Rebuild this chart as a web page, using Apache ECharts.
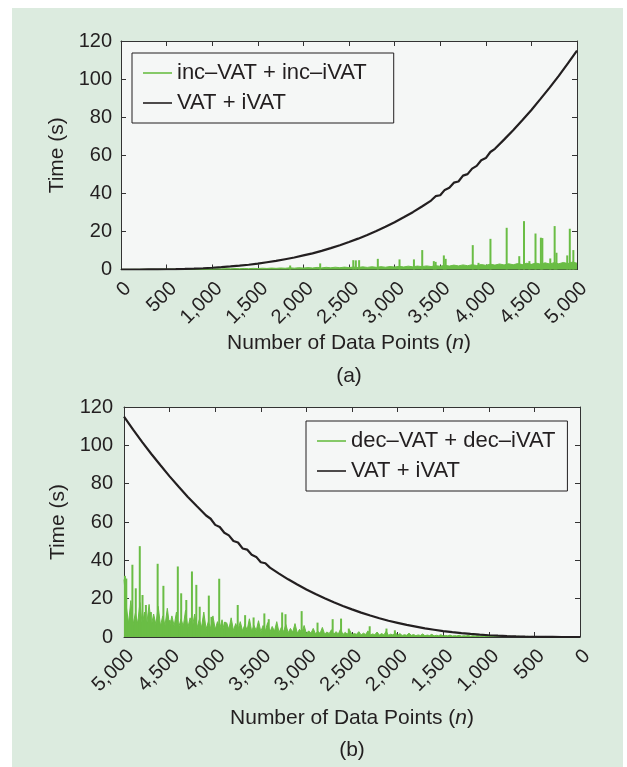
<!DOCTYPE html>
<html><head><meta charset="utf-8">
<script src="https://cdn.jsdelivr.net/npm/echarts@6/dist/echarts.min.js"></script>
<style>
html,body{margin:0;padding:0;background:#fff;}
#panel{position:absolute;left:12px;top:8px;width:611px;height:759px;background:#dcebdf;}
#c{position:absolute;left:0;top:0;width:627px;height:767px;}
</style>
</head><body><div id="panel"></div><div id="c"></div>
<script>
// ---------- data ----------
const xTickValues = [0,500,1000,1500,2000,2500,3000,3500,4000,4500,5000];

// VAT + iVAT (seconds) vs n
const vatN = [0,100,200,300,400,500,600,700,800,900,1000,1100,1200,1300,1400,1500,1600,1700,1800,1900,2000,2100,2200,2300,2400,2500,2600,2700,2800,2900,3000,3100,3200,3300,3400,
  3450,3500,3550,3600,3650,3700,3750,3800,3850,3900,3950,4000,4050,
  4100,4200,4300,4400,4500,4600,4700,4800,4900,5000];
const vatT = [0,0,0.01,0.03,0.06,0.12,0.2,0.32,0.47,0.67,0.92,1.22,1.6,2.0,2.5,3.1,3.8,4.5,5.4,6.3,7.4,8.5,9.8,11.2,12.7,14.4,16.2,18.1,20.2,22.4,24.8,27.4,30.1,33.1,36.2,
  38.5,39.0,41.8,42.9,45.6,46.2,49.3,50.1,53.0,54.4,57.4,58.5,61.7,
  63.4,68.2,73.1,78.4,83.8,89.6,95.5,101.7,108.2,115];

// inc-VAT + inc-iVAT : baseline every 50 points (n = 0..5000)
const incStep = 50;
const incBaseT = [
  0.05,0.08,0.05,0.1,0.08,0.12,0.1,0.15,0.12,0.18,
  0.15,0.2,0.17,0.22,0.2,0.26,0.22,0.3,0.25,0.33,
  0.3,0.4,0.32,0.45,0.38,0.5,0.42,0.55,0.45,0.6,
  0.5,0.68,0.55,0.75,0.6,0.8,0.65,0.9,0.7,0.95,
  0.75,1.0,0.8,1.1,0.85,1.15,0.9,1.2,0.95,1.25,
  1.0,1.3,1.05,1.4,1.1,1.45,1.15,1.5,1.2,1.55,
  1.3,1.65,1.35,1.75,1.4,1.8,1.5,1.9,1.55,2.0,
  1.7,2.2,1.8,2.3,1.9,2.4,2.0,2.5,2.1,2.6,
  2.2,2.8,2.3,2.9,2.4,3.0,2.5,3.1,2.6,3.3,
  2.7,3.4,2.8,3.5,2.9,3.6,3.0,3.7,3.1,3.9,
  3.3];
// inc spikes
const incSpikeN = [1855,2184,2547,2575,2611,2816,3054,3212,3303,3430,3450,3540,3560,3857,3920,4051,4229,4367,4419,4478,4545,4604,4620,4707,4755,4775,4893,4921,4960];
const incSpikeT = [2.1,3.2,4.9,4.8,4.9,5.6,5.3,5.3,10.2,4.4,4.0,7.4,5.6,12.8,3.5,16.1,21.9,7.0,25.4,4.4,18.9,16.7,16.5,5.8,22.8,8.8,7.4,21.4,10.2];

// dec-VAT + dec-iVAT : baseline every 25 points (n = 0..5000)
const decStep = 25;
const decBaseT = [
  0.1,0.15,0.1,0.2,0.12,0.18,0.1,0.22,0.15,0.2,0.12,0.25,0.18,0.22,0.15,0.28,0.2,0.25,0.18,0.3,
  0.22,0.32,0.2,0.35,0.25,0.3,0.22,0.4,0.28,0.35,0.25,0.45,0.3,0.4,0.28,0.5,0.32,0.45,0.3,0.55,
  0.35,0.6,0.4,0.5,0.35,0.7,0.45,0.6,0.4,0.8,0.5,0.65,0.45,0.9,0.55,0.7,0.5,1.0,0.6,0.8,
  0.55,1.2,0.7,0.9,0.6,1.4,0.75,1.0,0.65,1.6,0.8,1.1,0.7,1.3,0.85,2.0,0.9,1.2,0.8,1.8,
  0.9,2.4,1.0,1.5,0.9,3.0,1.1,1.8,1.0,2.6,1.2,1.6,1.0,3.2,1.3,2.0,1.1,2.8,1.4,1.8,
  1.2,3.5,1.5,2.4,1.3,4.2,1.6,2.8,1.4,3.8,1.8,2.6,1.5,5.0,1.9,3.0,1.6,4.5,2.0,3.2,
  1.8,6.0,2.2,4.0,2.0,7.0,2.5,4.5,2.2,6.5,2.8,5.0,2.4,8.0,3.0,5.5,2.6,7.5,3.2,6.0,
  2.8,8.5,3.4,6.0,3.0,9.5,3.6,6.5,3.2,8.0,3.8,7.0,3.4,10.0,4.0,7.5,3.6,9.0,4.2,8.0,
  4.0,11.0,4.5,8.0,4.2,13.0,5.0,9.0,4.6,12.0,5.2,10.0,4.8,14.0,5.5,9.5,5.0,13.0,5.8,11.0,
  5.5,15.0,6.0,11.0,5.8,16.0,6.5,12.0,6.0,17.0,6.8,13.0,6.2,18.0,7.0,12.5,6.5,19.0,7.2,16.0,
  30];
// dec spikes
const decSpikeN = [4990,4975,4908,4871,4827,4797,4760,4705,4631,4568,4502,4410,4373,4317,4255,4207,4170,4070,4041,3956,3893,3753,3672,3579,3461,3413,3266,3229,3052,2878,2712,2620,2535,2306,2122,2030];
const decSpikeT = [31.9,30.5,37.7,25.4,47.4,21.9,16.7,13,38.2,26.7,8.8,36.8,22.8,19.3,34.2,27.2,15.8,21.6,10.5,30.4,7.9,16.7,11.4,10.2,12.3,9.3,12.8,11.9,13.5,7.5,9.3,9.6,4.4,5.6,4.4,3.5];

const nameInc = 'inc\u2013VAT + inc\u2013iVAT';
const nameDec = 'dec\u2013VAT + dec\u2013iVAT';
const nameVat = 'VAT + iVAT';

// ---------- styling ----------
const GREEN = '#6abd45', DARK = '#231f20', AXIS = '#333333', PLOTBG = '#f5f7f6';
const FONT = '"Liberation Sans", Arial, Helvetica, sans-serif';

const pairs = (xs, ys) => xs.map((x, i) => [x, ys[i]]);
const stepPairs = (step, ys) => ys.map((y, i) => [i * step, y]);
const fmt = v => v >= 1000 ? Math.floor(v / 1000) + ',' + String(v % 1000).padStart(3, '0') : String(v);

function xAxes(gi, inverse, nameGap) {
  return [{
    gridIndex: gi, type: 'value', min: 0, max: 5000, interval: 500, inverse,
    axisLine: { show: true, onZero: false, lineStyle: { color: AXIS, width: 1 } },
    axisTick: { show: true, inside: true, length: 5, lineStyle: { color: AXIS } },
    splitLine: { show: false },
    axisLabel: { rotate: 45, align: 'right', verticalAlign: 'top', margin: 9, fontSize: 20, color: DARK, fontFamily: FONT, formatter: fmt, showMinLabel: true, showMaxLabel: true },
    name: 'Number of Data Points ({i|n})', nameLocation: 'middle', nameGap,
    nameTextStyle: { fontSize: 21, color: DARK, fontFamily: FONT, rich: { i: { fontSize: 21, fontStyle: 'italic', color: DARK, fontFamily: FONT } } }
  }, {
    gridIndex: gi, type: 'value', position: 'top', min: 0, max: 5000, interval: 500, inverse,
    axisLine: { show: true, onZero: false, lineStyle: { color: AXIS, width: 1 } },
    axisTick: { show: true, inside: true, length: 5, lineStyle: { color: AXIS } },
    axisLabel: { show: false }, splitLine: { show: false }
  }];
}
function yAxes(gi, nameGap, margin) {
  return [{
    gridIndex: gi, type: 'value', min: 0, max: 120, interval: 20,
    axisLine: { show: true, onZero: false, lineStyle: { color: AXIS, width: 1 } },
    axisTick: { show: true, inside: true, length: 5, lineStyle: { color: AXIS } },
    splitLine: { show: false },
    axisLabel: { margin, fontSize: 20, color: DARK, fontFamily: FONT },
    name: 'Time (s)', nameLocation: 'middle', nameGap,
    nameTextStyle: { fontSize: 21, color: DARK, fontFamily: FONT }
  }, {
    gridIndex: gi, type: 'value', position: 'right', min: 0, max: 120, interval: 20,
    axisLine: { show: true, onZero: false, lineStyle: { color: AXIS, width: 1 } },
    axisTick: { show: true, inside: true, length: 5, lineStyle: { color: AXIS } },
    axisLabel: { show: false }, splitLine: { show: false }
  }];
}
function legendAt(left, top, names, padRight) {
  return {
    left, top, orient: 'vertical', data: names, icon: 'rect',
    itemWidth: 29, itemHeight: 1.6, itemGap: 8, itemTextGap: 7,
    padding: [9, padRight, 9, 11],
    borderColor: DARK, borderWidth: 1, backgroundColor: PLOTBG, borderRadius: 0,
    selectedMode: false,
    textStyle: { fontSize: 22, color: DARK, fontFamily: FONT, lineHeight: 21 }
  };
}
const lineSeries = (name, xi, yi, data, color, width, z, area) => ({
  name, type: 'line', xAxisIndex: xi, yAxisIndex: yi, data, symbol: 'none', showSymbol: false,
  lineStyle: { color, width }, itemStyle: { color },
  areaStyle: area ? { color, opacity: 1 } : undefined,
  sampling: null, z, animation: false
});
const spikeSeries = (name, xi, yi, data) => ({
  name, type: 'bar', xAxisIndex: xi, yAxisIndex: yi, data, barWidth: 2,
  itemStyle: { color: GREEN }, z: 3, animation: false
});

const chart = echarts.init(document.getElementById('c'), null, { renderer: 'canvas' });
chart.setOption({
  animation: false,
  grid: [
    { left: 121, top: 41, width: 456, height: 228.5, show: true, backgroundColor: PLOTBG, borderWidth: 0 },
    { left: 124, top: 407, width: 456, height: 230, show: true, backgroundColor: PLOTBG, borderWidth: 0 }
  ],
  xAxis: [...xAxes(0, false, 63.5), ...xAxes(1, true, 71)],
  yAxis: [...yAxes(0, 50, 9), ...yAxes(1, 53, 11)],
  legend: [legendAt(132, 53, [nameInc, nameVat], 27), legendAt(306, 421, [nameDec, nameVat], 12)],
  series: [
    lineSeries(nameInc, 0, 0, stepPairs(incStep, incBaseT), GREEN, 1, 2, true),
    spikeSeries('inc spikes', 0, 0, pairs(incSpikeN, incSpikeT)),
    lineSeries(nameVat, 0, 0, pairs(vatN, vatT), DARK, 2.2, 5, false),
    lineSeries(nameDec, 2, 2, stepPairs(decStep, decBaseT), GREEN, 1, 2, true),
    spikeSeries('dec spikes', 2, 2, pairs(decSpikeN, decSpikeT)),
    lineSeries(nameVat, 2, 2, pairs(vatN, vatT), DARK, 2.2, 5, false)
  ],
  graphic: [
    { type: 'text', x: 349, y: 376, style: { text: '(a)', align: 'center', verticalAlign: 'middle', fontSize: 21, fill: DARK, fontFamily: FONT } },
    { type: 'text', x: 352, y: 750, style: { text: '(b)', align: 'center', verticalAlign: 'middle', fontSize: 21, fill: DARK, fontFamily: FONT } }
  ]
});
</script>
</body></html>
